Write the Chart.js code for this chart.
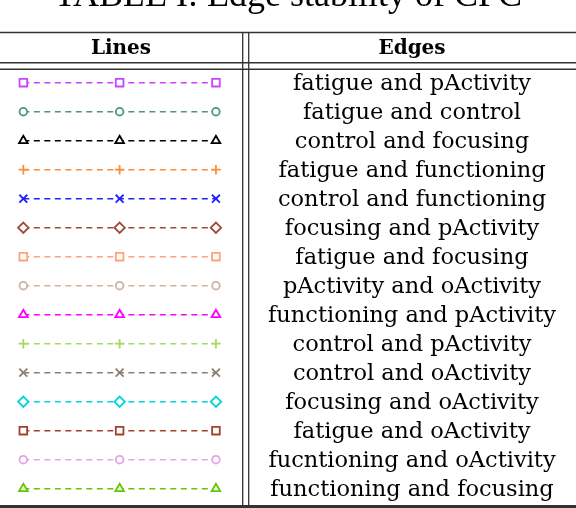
<!DOCTYPE html>
<html>
<head>
<meta charset="utf-8">
<script src="https://cdn.jsdelivr.net/npm/chart.js@4.4.1/dist/chart.umd.min.js"></script>
<style>
  html, body { margin: 0; padding: 0; background: #fff; }
  #wrap { width: 576px; height: 508px; }
</style>
</head>
<body>
<div id="wrap"><canvas id="myChart" width="576" height="508"></canvas></div>
<script>
const tableTitle = "TABLE I: Edge stability of CPC";
const headers = ["Lines", "Edges"];

const edges = [
  "fatigue and pActivity",
  "fatigue and control",
  "control and focusing",
  "fatigue and functioning",
  "control and functioning",
  "focusing and pActivity",
  "fatigue and focusing",
  "pActivity and oActivity",
  "functioning and pActivity",
  "control and pActivity",
  "control and oActivity",
  "focusing and oActivity",
  "fatigue and oActivity",
  "fucntioning and oActivity",
  "functioning and focusing"
];

const lineColors = [
  "#cc44ff", "#4f9480", "#000000", "#ff8c3a", "#2020ff",
  "#a04a32", "#ffa27c", "#d2b29c", "#ff00ff", "#a8da5c",
  "#8a7f72", "#00d4dc", "#a3412a", "#e6a3e6", "#62c800"
];

const markerStyles = [
  "rect", "circle", "triangle", "cross", "crossRot",
  "rectRot", "rect", "circle", "triangle", "cross",
  "crossRot", "rectRot", "rect", "circle", "triangle"
];

// x position (in "marker slots") of the three markers on each legend line
const markerSlots = [0, 1, 2];

const markerRadius = { rect: 5.4, circle: 3.8, triangle: 5, cross: 4.8, crossRot: 5.6, rectRot: 5.2 };

const datasets = edges.map((name, i) => ({
  label: name,
  data: markerSlots.map(x => ({ x: x, y: i })),
  borderColor: lineColors[i],
  pointBorderColor: lineColors[i],
  pointBackgroundColor: "#ffffff",
  pointStyle: markerStyles[i],
  pointRadius: markerRadius[markerStyles[i]],
  pointBorderWidth: 1.8,
  borderWidth: 1.5,
  borderDash: [6, 4.5],
  fill: false,
  tension: 0
}));

const tablePlugin = {
  id: "tablePlugin",
  beforeDraw(chart) {
    const ctx = chart.ctx;
    ctx.save();
    ctx.fillStyle = "#ffffff";
    ctx.fillRect(0, 0, chart.width, chart.height);
    ctx.restore();
  },
  afterDraw(chart) {
    const ctx = chart.ctx;
    const yScale = chart.scales.y;
    const W = chart.width;
    ctx.save();

    // title (cut by the top of the picture)
    ctx.fillStyle = "#000";
    ctx.font = "36px 'Liberation Serif', serif";
    ctx.textAlign = "center";
    ctx.textBaseline = "alphabetic";
    ctx.fillText(tableTitle, 288, 6);

    // rules
    ctx.strokeStyle = "#333";
    const hline = (y, w) => {
      ctx.lineWidth = w;
      ctx.beginPath(); ctx.moveTo(0, y); ctx.lineTo(W, y); ctx.stroke();
    };
    hline(32.5, 1.6);
    hline(62.8, 1.4);
    hline(69.3, 1.4);
    ctx.lineWidth = 3;
    ctx.beginPath(); ctx.moveTo(0, 506.5); ctx.lineTo(W, 506.5); ctx.stroke();

    ctx.lineWidth = 1.3;
    [242.7, 248.7].forEach(x => {
      ctx.beginPath(); ctx.moveTo(x, 32.5); ctx.lineTo(x, 505); ctx.stroke();
    });

    // header
    ctx.fillStyle = "#000";
    ctx.font = "bold 20px 'DejaVu Serif', serif";
    ctx.textBaseline = "alphabetic";
    ctx.fillText(headers[0], 121, 54);
    ctx.fillText(headers[1], 412, 54);

    // edge names, one per row, placed through the y scale
    ctx.font = "22.5px 'DejaVu Serif', serif";
    ctx.textBaseline = "middle";
    edges.forEach((name, i) => {
      ctx.fillText(name, 412, yScale.getPixelForValue(i) + 1);
    });
    ctx.restore();
  }
};

const ctx = document.getElementById("myChart").getContext("2d");
const chart = new Chart(ctx, {
  type: "line",
  data: { datasets: datasets },
  options: {
    responsive: false,
    animation: false,
    layout: { padding: 0, autoPadding: false },
    plugins: {
      legend: { display: false },
      tooltip: { enabled: false },
      title: { display: false }
    },
    scales: {
      x: { type: "linear", display: false, min: -0.2422, max: 5.7388 },
      y: { type: "linear", display: false, reverse: true, min: -2.852, max: 14.666 }
    }
  },
  plugins: [tablePlugin]
});
</script>
</body>
</html>
